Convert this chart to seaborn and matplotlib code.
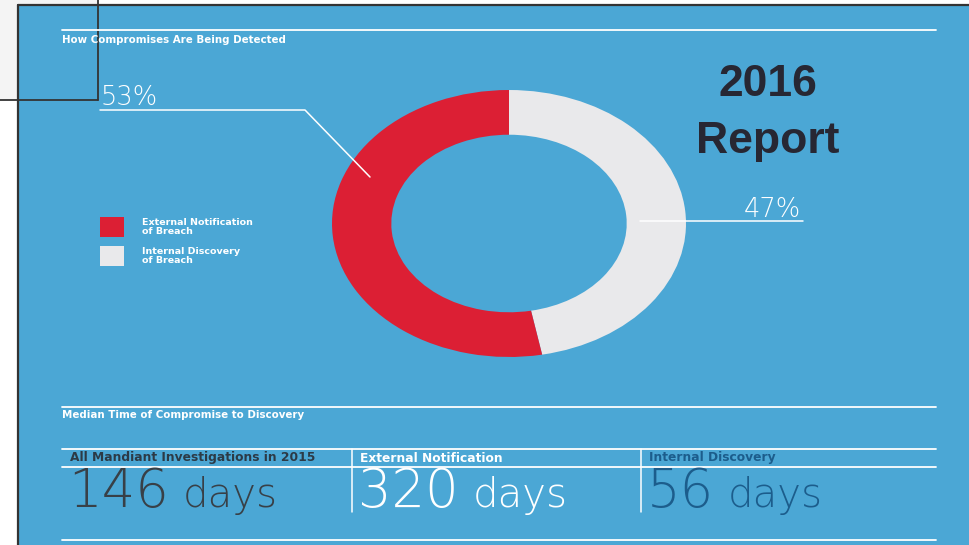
import matplotlib
matplotlib.use("Agg")
import matplotlib.pyplot as plt
import seaborn as sns
from matplotlib.patches import Rectangle

# data
categories = ["External Notification\nof Breach", "Internal Discovery\nof Breach"]
shares = [53, 47]
time_headers = ["All Mandiant Investigations in 2015", "External Notification", "Internal Discovery"]
median_days = [146, 320, 56]

BLUE = "#4ba7d5"
RED = "#dc1f34"
LIGHT = "#e9e9eb"
palette = sns.color_palette([RED, LIGHT])

sns.set_theme(style="white")
plt.rcParams["font.family"] = ["DejaVu Sans"]

fig = plt.figure(figsize=(9.7, 5.45), dpi=100)
fig.patch.set_facecolor("white")

# background axes in pixel coordinates
bg = fig.add_axes([0, 0, 1, 1], zorder=0)
bg.set_xlim(0, 970)
bg.set_ylim(545, 0)
bg.axis("off")
bg.add_patch(Rectangle((0, 0), 98, 100, fc="#f4f4f4", ec="none"))
bg.plot([98, 98], [0, 100], color="#333", lw=1.3)
bg.plot([0, 98], [100, 100], color="#333", lw=1.3)
bg.add_patch(Rectangle((18, 5), 960, 545, fc=BLUE, ec="none"))
bg.plot([18, 18], [5, 545], color="#333", lw=1.6)
bg.plot([18, 970], [5, 5], color="#333", lw=1.6)

# donut (stretched like the source image)
pie_ax = fig.add_axes([332 / 970, 1 - 357 / 545, 354 / 970, 267 / 545], zorder=1)
pie_ax.pie(shares[::-1], colors=palette[::-1], startangle=90, counterclock=False,
           radius=1, wedgeprops=dict(width=0.335, edgecolor="none"))
pie_ax.set_aspect("auto")
pie_ax.set_xlim(-1, 1)
pie_ax.set_ylim(-1, 1)
pie_ax.axis("off")

# overlay for lines and text
top = fig.add_axes([0, 0, 1, 1], zorder=2)
top.set_xlim(0, 970)
top.set_ylim(545, 0)
top.axis("off")
top.patch.set_alpha(0)

W = "white"
for y in [30, 407, 449, 467, 540]:
    top.plot([62, 936], [y, y], color=W, lw=1.3)

small = dict(fontsize=7.4, fontweight="bold", color=W)
top.text(62, 40, "How Compromises Are Being Detected", va="center", **small)
top.text(62, 415, "Median Time of Compromise to Discovery", va="center", **small)

# percentage callouts
thin = dict(family=["DejaVu Sans"], fontweight=200)
top.text(101, 105, f"{shares[0]}%", fontsize=18.5, color=W, va="baseline", **thin)
top.plot([100, 305, 370], [110, 110, 177], color=W, lw=1.1)
top.text(801, 217, f"{shares[1]}%", fontsize=18.5, color=W, va="baseline",
         ha="right", **thin)
top.plot([640, 803], [221, 221], color=W, lw=1.1)

# legend
for i, (lab, col) in enumerate(zip(categories, palette)):
    y0 = 217 + i * 29
    top.add_patch(Rectangle((100, y0), 24, 20, fc=col, ec="none"))
    top.text(142, y0 + 10, lab, fontsize=6.8, fontweight="bold", color=W,
             va="center", linespacing=1.0)

# report badge
top.text(768, 84, "2016", fontsize=32, fontweight="bold",
         family=["Liberation Sans", "DejaVu Sans"], color="#272733",
         ha="center", va="center")
top.text(768, 142, "Report", fontsize=32, fontweight="bold",
         family=["Liberation Sans", "DejaVu Sans"], color="#272733",
         ha="center", va="center")

# median time table
col_x = [62, 352, 641]
head_colors = ["#2c3a46", W, "#1c5d8c"]
num_colors = ["#384047", W, "#1c5d8c"]
for x in col_x[1:]:
    top.plot([x, x], [449, 512], color=W, lw=1.1)
for x, head, days, hc, nc in zip(col_x, time_headers, median_days, head_colors, num_colors):
    top.text(x + 8, 458, head, fontsize=8.8, fontweight="bold", color=hc, va="center")
    num = top.text(x + 6, 507, str(days), fontsize=38, color=nc, va="baseline", **thin)
    top.annotate("days", xy=(1, 507), xycoords=(num, "data"), xytext=(10, 0),
                 textcoords="offset points", fontsize=29, color=nc,
                 va="baseline", **thin)

fig.savefig("out.png", dpi=100)
